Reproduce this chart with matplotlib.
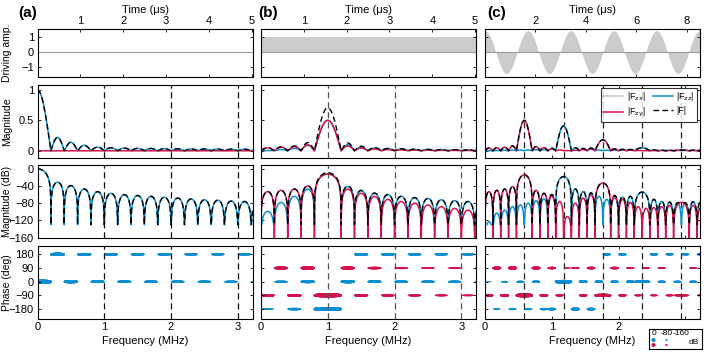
import numpy as np
import matplotlib
matplotlib.use("Agg")
import matplotlib.pyplot as plt

plt.rcParams["font.family"] = ["Liberation Sans", "DejaVu Sans"]
plt.rcParams["font.size"] = 8

BLUE = "#0b8fd0"
RED = "#d3134b"
GRAY = "#cccccc"

# ---------------- data ----------------
# (a) no drive, 5 us window
drive_t_a = [0.0, 5.02]
drive_a = [0.0, 0.0]
edges_a = [-0.2, 0.2, 0.4, 0.6, 0.8, 1.0, 1.2, 1.4, 1.6, 1.8, 2.0, 2.2, 2.4, 2.6, 2.8, 3.0, 3.2, 3.4]
zz_lin_a = [1.0, 0.22, 0.14, 0.09, 0.06, 0.05, 0.045, 0.04, 0.038, 0.035, 0.033, 0.03, 0.03, 0.028, 0.027, 0.026, 0.025]
zy_lin_a = [0.0] * 17
zz_db_a = [0, -31, -39, -47, -53, -57, -60, -62, -64, -66, -68, -70, -72, -73, -75, -76, -78]
zy_db_a = None
zz_ph_a = [0, 180, 0, 180, 0, 180, 0, 180, 0, 180, 0, 180, 0, 180, 0, 180, 0]
zy_ph_a = None
marks_a = [1.0, 2.0, 3.0]

# (b) constant drive, 5 us window
drive_t_b = [0.0, 5.02]
drive_b = [1.0, 1.0]
edges_b = [0, 0.2, 0.4, 0.6, 0.8, 1.2, 1.4, 1.6, 1.8, 2.0, 2.2, 2.4, 2.6, 2.8, 3.0, 3.2, 3.4]
zz_lin_b = [0.005, 0.02, 0.04, 0.09, 0.5, 0.1, 0.06, 0.045, 0.035, 0.03, 0.025, 0.022, 0.02, 0.018, 0.016, 0.015]
zy_lin_b = [0.05, 0.06, 0.07, 0.1, 0.5, 0.08, 0.045, 0.03, 0.02, 0.015, 0.012, 0.01, 0.008, 0.007, 0.006, 0.005]
zz_db_b = [-99, -78, -64, -47, -12, -41, -51, -57, -60, -64, -67, -69, -72, -74, -76, -78]
zy_db_b = [-53, -50, -47, -40, -12, -47, -57, -64, -71, -76, -80, -84, -88, -92, -96, -99]
zz_ph_b = [-180, 0, -180, 0, -180, 0, 180, 0, 180, 0, 180, 0, 180, 0, 180, 0]
zy_ph_b = [-90, 90, -90, 90, -90, 90, -90, 90, -90, 90, -90, 90, -90, 90, -90, 90]
marks_b = [1.0, 2.0, 3.0]

# (c) sinusoidal drive, 8.5 us window (samples every 0.1 us)
drive_t_c = [round(0.1 * k, 1) for k in range(86)]
drive_c = [1.41, 1.31, 1.04, 0.63, 0.13, -0.39, -0.85, -1.20, -1.39, -1.39, -1.20, -0.85, -0.39, 0.13, 0.63, 1.04, 1.31,
           1.41, 1.31, 1.04, 0.63, 0.13, -0.39, -0.85, -1.20, -1.39, -1.39, -1.20, -0.85, -0.39, 0.13, 0.63, 1.04, 1.31,
           1.41, 1.31, 1.04, 0.63, 0.13, -0.39, -0.85, -1.20, -1.39, -1.39, -1.20, -0.85, -0.39, 0.13, 0.63, 1.04, 1.31,
           1.41, 1.31, 1.04, 0.63, 0.13, -0.39, -0.85, -1.20, -1.39, -1.39, -1.20, -0.85, -0.39, 0.13, 0.63, 1.04, 1.31,
           1.41, 1.31, 1.04, 0.63, 0.13, -0.39, -0.85, -1.20, -1.39, -1.39, -1.20, -0.85, -0.39, 0.13, 0.63, 1.04, 1.31,
           1.41]
edges_zz_c = [0, 0.118, 0.235, 0.353, 0.471, 0.588, 0.706, 0.824, 0.941, 1.059, 1.294, 1.412, 1.529, 1.647,
              1.765, 1.882, 2.0, 2.118, 2.235, 2.471, 2.588, 2.706, 2.824, 2.941, 3.059, 3.176, 3.294]
edges_zy_c = [0, 0.118, 0.235, 0.353, 0.471, 0.706, 0.824, 0.941, 1.059, 1.176, 1.294, 1.412, 1.529, 1.647,
              1.882, 2.0, 2.118, 2.235, 2.353, 2.471, 2.588, 2.706, 2.824, 3.059, 3.176, 3.294]
zz_lin_c = [0.003, 0.005, 0.008, 0.01, 0.012, 0.015, 0.018, 0.02, 0.03, 0.41, 0.05, 0.035, 0.025, 0.015, 0.01,
            0.012, 0.015, 0.02, 0.05, 0.015, 0.01, 0.008, 0.008, 0.008, 0.01, 0.01]
zy_lin_c = [0.045, 0.05, 0.06, 0.08, 0.5, 0.07, 0.05, 0.035, 0.015, 0.003, 0.01, 0.02, 0.04, 0.18, 0.03, 0.02,
            0.01, 0.005, 0.003, 0.003, 0.004, 0.006, 0.012, 0.005, 0.003]
zz_db_c = [-123, -103, -96, -88, -84, -80, -74, -70, -61, -18, -47, -53, -57, -64, -71, -68, -66, -64, -54, -71,
           -76, -78, -80, -80, -77, -76]
zy_db_c = [-53, -50, -47, -41, -14, -50, -57, -64, -76, -111, -80, -68, -61, -33, -63, -71, -78, -88, -92, -90,
           -88, -85, -78, -85, -90]
zz_ph_c = [0, -180, 0, -180, 0, -180, 0, -180, -180, 0, -180, 0, -180, 0, 180, 0, 180, 0, 0, 180, 0, 180, 0, 180, 0, 180]
zy_ph_c = [-90, 90, -90, 90, -90, 90, -90, 90, -90, 90, 90, -90, 90, -90, 90, -90, 90, -90, 90, -90, 90, -90, -90, 90, -90]
marks_c = [0.588, 1.176, 1.765, 2.353, 2.941]

freq_ticks = [0, 1, 2, 3]
freq_labels = ["0", "1", "2", "3"]
size_db = [0, -80, -160]

cols = [
    dict(tag="(a)", t=drive_t_a, d=drive_a, tmax=5.02, tticks=[1, 2, 3, 4, 5], fill=False,
         ez=edges_a, ey=edges_a, zl=zz_lin_a, yl=zy_lin_a, zd=zz_db_a, yd=zy_db_a, zp=zz_ph_a, yp=zy_ph_a,
         marks=marks_a, mcol="#111111"),
    dict(tag="(b)", t=drive_t_b, d=drive_b, tmax=5.02, tticks=[1, 2, 3, 4, 5], fill=True,
         ez=edges_b, ey=edges_b, zl=zz_lin_b, yl=zy_lin_b, zd=zz_db_b, yd=zy_db_b, zp=zz_ph_b, yp=zy_ph_b,
         marks=marks_b, mcol="#555555"),
    dict(tag="(c)", t=drive_t_c, d=drive_c, tmax=8.52, tticks=[2, 4, 6, 8], fill=True,
         ez=edges_zz_c, ey=edges_zy_c, zl=zz_lin_c, yl=zy_lin_c, zd=zz_db_c, yd=zy_db_c, zp=zz_ph_c, yp=zy_ph_c,
         marks=marks_c, mcol="#222222"),
]

DBK = 40  # how fast the dB lobes fall off towards their nulls
DOT = 2.9  # marker diameter (pt) at 0 dB


def lobe_sin(f, edges, n):
    edges = np.asarray(edges, float)
    i = np.clip(np.searchsorted(edges, f, side="right") - 1, 0, n - 1)
    u = np.clip((f - edges[i]) / (edges[i + 1] - edges[i]), 0, 1)
    return np.abs(np.sin(np.pi * u)), i


def lobe_lin(f, edges, peaks):
    s, i = lobe_sin(f, edges, len(peaks))
    return np.asarray(peaks, float)[i] * s


def lobe_db(f, edges, peaks, floor):
    s, i = lobe_sin(f, edges, len(peaks))
    with np.errstate(divide="ignore"):
        y = np.asarray(peaks, float)[i] + DBK * np.log10(s)
    return np.maximum(y, floor)


def style(ax):
    ax.tick_params(direction="in", top=True, right=True, length=2.5, width=0.6, labelsize=8, pad=2.5)
    for s in ax.spines.values():
        s.set_linewidth(0.8)


W, H = 706, 353
fig = plt.figure(figsize=(7.06, 3.53), dpi=100)


def box(l, t, w, h):
    return [l / W, 1 - (t + h) / H, w / W, h / H]


lefts = [37.5, 261, 485]
rows = [(29, 47.5), (85, 72.5), (165, 73), (246, 72.5)]
wid = 215
ylab_x = -0.12
ylab_fs = 7.5

for ci, c in enumerate(cols):
    L = lefts[ci]
    # driving panel
    ax = fig.add_axes(box(L, rows[0][0], wid, rows[0][1]))
    style(ax)
    if c["fill"]:
        ax.fill_between(c["t"], 0, c["d"], color=GRAY, lw=0)
    ax.axhline(0, color="#9a9a9a", lw=0.8)
    ax.set_xlim(0, c["tmax"])
    ax.set_ylim(-1.6, 1.5)
    ax.set_yticks([-1, 0, 1])
    ax.set_xticks(c["tticks"])
    ax.tick_params(labeltop=True, labelbottom=False)
    ax.xaxis.set_label_position("top")
    ax.set_xlabel("Time (μs)", labelpad=2)
    if ci == 0:
        ax.set_ylabel("Driving amp.", fontsize=ylab_fs)
        ax.yaxis.set_label_coords(ylab_x, 0.5)
    else:
        ax.set_yticklabels([])
    fig.text([18, 258, 487][ci] / W, 1 - 13 / H, c["tag"], fontsize=11, fontweight="bold", va="center")

    f = np.union1d(np.linspace(0, 3.35, 4000), np.union1d(c["ez"], c["ey"]))
    f = f[(f >= 0) & (f <= 3.35)]

    # linear magnitude
    ax = fig.add_axes(box(L, rows[1][0], wid, rows[1][1]))
    style(ax)
    zz = lobe_lin(f, c["ez"], c["zl"])
    zy = lobe_lin(f, c["ey"], c["yl"])
    for m in c["marks"]:
        ax.axvline(m, color=c["mcol"], lw=0.9, ls=(0, (5, 3)))
    hz, = ax.plot(f, zz, color=BLUE, lw=1.1)
    hy, = ax.plot(f, zy, color=RED, lw=1.1)
    hf, = ax.plot(f, np.sqrt(zz ** 2 + zy ** 2), color="k", lw=1.0, ls=(0, (4, 2.5)))
    ax.set_xlim(0, 3.22)
    ax.set_ylim(-0.11, 1.08)
    ax.set_yticks([0, 0.5, 1])
    ax.set_xticks(freq_ticks)
    ax.set_xticklabels([])
    if ci == 0:
        ax.set_ylabel("Magnitude", fontsize=ylab_fs)
        ax.yaxis.set_label_coords(ylab_x, 0.5)
        ax.set_yticklabels(["0", "0.5", "1"])
    else:
        ax.set_yticklabels([])
    if ci == 2:
        hx, = ax.plot([], [], color="#c8c8c8", lw=1.1)
        ax.legend([hx, hy, hz, hf], ["|F$_{\\rm zx}$|", "|F$_{\\rm zy}$|", "|F$_{\\rm zz}$|", "|F|"],
                  ncol=2, loc="upper right", fontsize=6.5, frameon=True, fancybox=False,
                  edgecolor="k", borderaxespad=0.3, handlelength=2.2, columnspacing=0.8,
                  handletextpad=0.4, borderpad=0.3, labelspacing=0.3).get_frame().set_linewidth(0.8)

    # magnitude in dB
    ax = fig.add_axes(box(L, rows[2][0], wid, rows[2][1]))
    style(ax)
    zzd = lobe_db(f, c["ez"], c["zd"], -130)
    for m in c["marks"]:
        ax.axvline(m, color=c["mcol"], lw=0.9, ls=(0, (5, 3)))
    ax.plot(f, zzd, color=BLUE, lw=1.1)
    if c["yd"] is not None:
        zyd = lobe_db(f, c["ey"], c["yd"], -170)
        ax.plot(f, zyd, color=RED, lw=1.1)
        fd = 10 * np.log10(10 ** (zzd / 10) + 10 ** (zyd / 10))
    else:
        fd = zzd
    ax.plot(f, fd, color="k", lw=1.0, ls=(0, (4, 2.5)))
    ax.set_xlim(0, 3.22)
    ax.set_ylim(-161, 9)
    ax.set_yticks([0, -40, -80, -120, -160])
    ax.set_xticks(freq_ticks)
    ax.set_xticklabels([])
    if ci == 0:
        ax.set_ylabel("Magnitude (dB)", fontsize=ylab_fs)
        ax.yaxis.set_label_coords(ylab_x, 0.5)
    else:
        ax.set_yticklabels([])

    # phase
    ax = fig.add_axes(box(L, rows[3][0], wid, rows[3][1]))
    style(ax)
    for m in c["marks"]:
        ax.axvline(m, color=c["mcol"], lw=0.9, ls=(0, (5, 3)))
    fp = np.linspace(0, 3.22, 1600)
    comps = [(c["ez"], c["zd"], c["zp"], BLUE)]
    if c["yp"] is not None:
        comps.append((c["ey"], c["yd"], c["yp"], RED))
    for edges, pk, ph, col in comps:
        s, i = lobe_sin(fp, edges, len(pk))
        with np.errstate(divide="ignore"):
            db = np.asarray(pk, float)[i] + DBK * np.log10(s)
        w = np.clip((db + 160) / 160, 0, 1)
        rgba = np.tile(np.array(matplotlib.colors.to_rgba(col)), (len(fp), 1))
        rgba[:, 3] = np.clip(0.15 + w, 0, 1)
        ax.scatter(fp, np.asarray(ph, float)[i], s=(w * DOT) ** 2, c=rgba, lw=0, marker="o")
    ax.set_xlim(0, 3.22)
    ax.set_ylim(-242, 235)
    ax.set_yticks([180, 90, 0, -90, -180])
    ax.set_xticks(freq_ticks)
    # in (c) the size legend box sits where the "3" label would be
    ax.set_xticklabels(freq_labels if ci < 2 else freq_labels[:3] + [""])
    ax.set_xlabel("Frequency (MHz)", labelpad=3)
    if ci == 0:
        ax.set_ylabel("Phase (deg)", fontsize=ylab_fs)
        ax.yaxis.set_label_coords(ylab_x, 0.5)
    else:
        ax.set_yticklabels([])

# size legend (dB scale of phase markers)
lg = fig.add_axes(box(648.5, 328.5, 53, 20))
lg.set_xlim(0, 53)
lg.set_ylim(20, 0)
lg.set_xticks([])
lg.set_yticks([])
for s in lg.spines.values():
    s.set_linewidth(0.8)
xs = [5.0, 18.0, 33.0]
for x, v in zip(xs, size_db):
    lg.text(x, 4.8, str(v), fontsize=6, ha="center", va="center")
wsz = (np.array(size_db, float) + 175) / 175
lg.scatter(xs, [11.5] * 3, s=(wsz * DOT) ** 2, color=BLUE, lw=0)
lg.scatter(xs, [16.5] * 3, s=(wsz * DOT) ** 2, color=RED, lw=0)
lg.text(45, 14, "dB", fontsize=6, ha="center", va="center")

fig.savefig("out.png", dpi=100)
